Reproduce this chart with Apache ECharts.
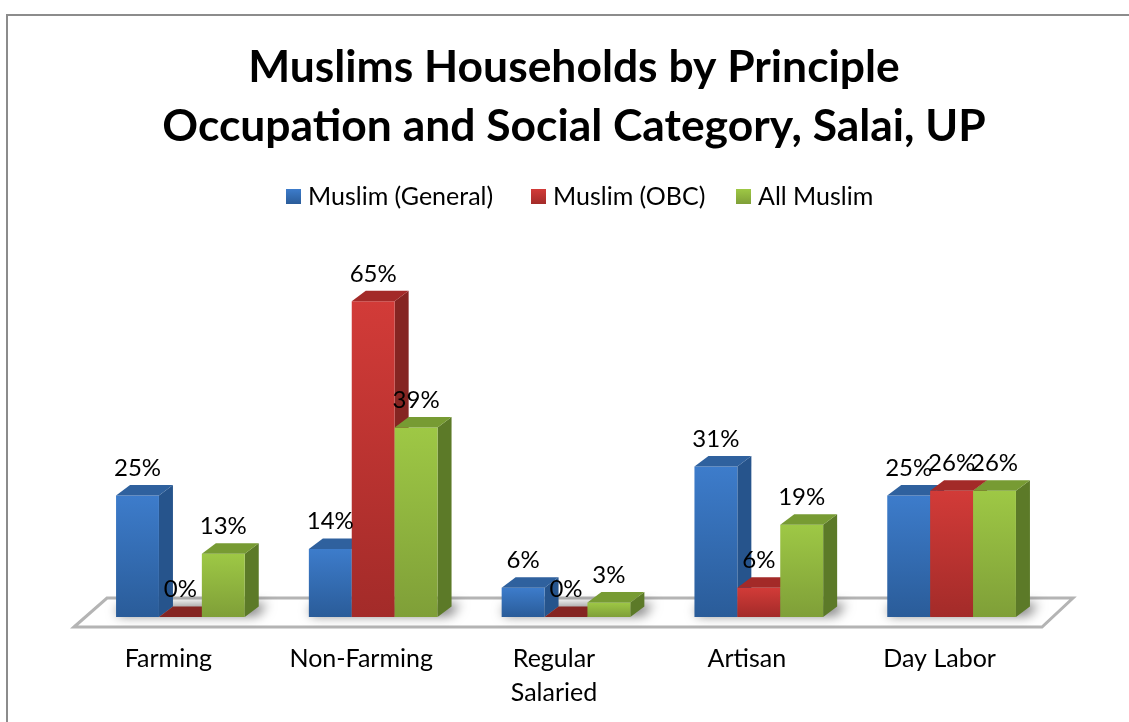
<!DOCTYPE html>
<html><head><meta charset="utf-8">
<style>html,body{margin:0;padding:0;background:#fff}#c{width:1129px;height:722px}</style>
<script src="https://cdn.jsdelivr.net/npm/echarts@6/dist/echarts.min.js"></script>
</head><body><div id="c"></div>
<script>
const categories = ['Farming', 'Non-Farming', 'Regular\nSalaried', 'Artisan', 'Day Labor'];
const seriesNames = ['Muslim (General)', 'Muslim (OBC)', 'All Muslim'];
const generalValues = [25, 14, 6, 31, 25];
const obcValues = [0, 65, 0, 6, 26];
const allValues = [13, 39, 3, 19, 26];
const FONT = 'Lato, "Open Sans", sans-serif';

const palette = [
  {light:'#3d7ccb', dark:'#2a5c99', top:'#2f619e', side:'#26548c'},
  {light:'#d23b38', dark:'#a32b29', top:'#a32a28', side:'#852522'},
  {light:'#9ec845', dark:'#7f9f38', top:'#779b33', side:'#5c7a28'}
];
const grad = (a,b)=>new echarts.graphic.LinearGradient(0,0,0,1,[{offset:0,color:a},{offset:1,color:b}]);

function barRenderer(s){
  return function(params, api){
    const i = api.value(0), v = api.value(1);
    const p = api.coord([i, v]), base = api.coord([i, 0]);
    const band = api.size([1,0])[0];
    const w = band*0.2225, dx = 14, dy = 10.5;
    const x0 = p[0] + (s-1.5)*w, x1 = x0 + w, top = p[1], bot = base[1];
    const c = palette[s];
    const children = [];
    if (v > 0) {
      children.push({type:'polygon', shape:{points:[[x1,top],[x1+dx,top-dy],[x1+dx,bot-dy],[x1,bot]]}, style:{fill:c.side}});
      children.push({type:'rect', shape:{x:x0,y:top,width:w,height:bot-top}, style:{fill:grad(c.light,c.dark)}});
    }
    children.push({type:'polygon', shape:{points:[[x0,top],[x0+dx,top-dy],[x1+dx,top-dy],[x1,top]]}, style:{fill:v>0?c.top:c.side}});
    children.push({type:'text', z2:100, style:{text:v+'%', x:x0+w/2, y:top-27.5, align:'center', verticalAlign:'middle', font:'24px '+FONT, fill:'#000'}});
    return {type:'group', children};
  };
}

// Soft floor shadows: the shape sits off-canvas, only its blurred shadow lands on the floor.
const OFF = 3000;
const floorShadows = [[118,255],[311,448],[504,641],[697,834],[889,1026]].map(r=>({
  type:'polygon', z:1,
  shape:{points:[[r[0]-OFF,607],[r[1]+12-OFF,604],[r[1]+2-OFF,615],[r[0]-OFF,615]]},
  style:{fill:'#000', shadowBlur:12, shadowOffsetX:OFF, shadowColor:'rgba(0,0,0,0.6)'}
}));

const legendLefts = [286, 531, 736];

const option = {
  animation:false,
  backgroundColor:'#fff',
  title:{
    text:'Muslims Households by Principle\nOccupation and Social Category, Salai, UP',
    left:569, top:33, textAlign:'center',
    textStyle:{fontFamily:FONT, fontWeight:'bold', fontSize:44.4, lineHeight:59, color:'#000'}
  },
  legend:seriesNames.map((n,k)=>({
    data:[n], top:184, left:legendLefts[k], padding:0, itemWidth:15, itemHeight:15, icon:'rect',
    textStyle:{fontFamily:FONT, fontSize:25, color:'#000', padding:[0,0,0,2]}
  })),
  grid:{left:84, right:81, top:277, bottom:105},
  xAxis:{type:'category', data:categories, axisLine:{show:false}, axisTick:{show:false},
    axisLabel:{fontFamily:FONT, fontSize:25, color:'#000', margin:25, lineHeight:34, padding:[0,24,0,0], interval:0}},
  yAxis:{type:'value', min:0, max:70, show:false, splitLine:{show:false}},
  graphic:[
    {type:'rect', z:0, shape:{x:7,y:15,width:1200,height:730}, style:{fill:'#fff', stroke:'#8c8c8c', lineWidth:2}},
    {type:'polygon', z:0, shape:{points:[[74,627],[107,598],[1073,598],[1042,627]]}, style:{fill:'#fff', stroke:'#b4b4b4', lineWidth:3}}
  ].concat(floorShadows),
  series:[generalValues, obcValues, allValues].map((vals,s)=>({
    type:'custom', name:seriesNames[s], clip:false, z:5,
    itemStyle:{color:grad(palette[s].light,palette[s].dark)},
    renderItem:barRenderer(s),
    encode:{x:0,y:1},
    data:vals.map((v,i)=>[i,v])
  }))
};
echarts.init(document.getElementById('c')).setOption(option);
</script></body></html>
